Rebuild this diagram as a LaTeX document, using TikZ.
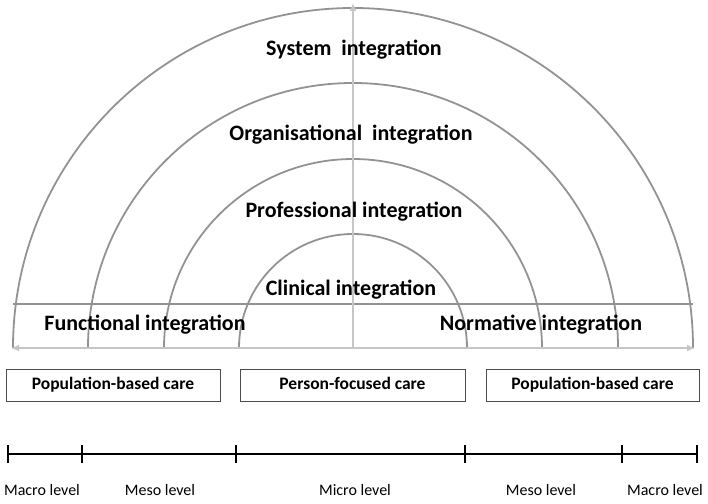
\documentclass[tikz,border=0pt]{standalone}
\usepackage{fontspec}
\setmainfont{Carlito}
\usetikzlibrary{arrows.meta}
\begin{document}
\begin{tikzpicture}[x=1pt,y=-1pt,
  arcline/.style={draw=gray!85, line width=1.8pt},
  axisline/.style={draw=gray!45, line width=1.5pt},
  biglabel/.style={font=\fontsize{22}{24}\selectfont\bfseries, inner sep=0pt},
  carebox/.style={draw=black!70, line width=0.8pt, inner sep=0pt, minimum height=32pt, text height=1.0em, text depth=0.2em, font=\fontsize{17.5}{19}\selectfont\bfseries},
  levellabel/.style={font=\fontsize{16}{18}\selectfont, inner sep=0pt},
  tick/.style={draw=black, line width=2pt}]
\useasboundingbox (0,0) rectangle (708,503);
% arcs
\draw[arcline] (13,348) arc[start angle=180,end angle=360,radius=340];
\draw[arcline] (88,348) arc[start angle=180,end angle=360,radius=265];
\draw[arcline] (164,348) arc[start angle=180,end angle=360,radius=189];
\draw[arcline] (239,348) arc[start angle=180,end angle=360,radius=114];
% band line
\coordinate (bl) at (13,304);
\coordinate (br) at (693,304);
\draw[arcline] (bl) -- (br);
% axes
\coordinate (hl) at (11,348);
\coordinate (hr) at (695,348);
\coordinate (vb) at (353,348);
\coordinate (vt) at (353,3);
\draw[axisline,{Latex[length=8pt,width=7pt]}-{Latex[length=8pt,width=7pt]}] (hl) -- (hr);
\draw[axisline,-{Latex[length=8pt,width=7pt]}] (vb) -- (vt);
% labels
\node[biglabel] (sys) at (354,50) {System\ \ integration};
\node[biglabel] (org) at (351,135) {Organisational\ \ integration};
\node[biglabel] (pro) at (354,212) {Professional integration};
\node[biglabel] (cli) at (351,290) {Clinical integration};
\node[biglabel] (fun) at (145,325) {Functional integration};
\node[biglabel] (nor) at (541,325) {Normative integration};
% boxes
\node[carebox, minimum width=214pt] (pb1) at (113,385) {Population-based care};
\node[carebox, minimum width=225pt] (pf) at (352.5,385) {Person-focused care};
\node[carebox, minimum width=213pt] (pb2) at (592.5,385) {Population-based care};
% timeline
\coordinate (t0) at (8,454);
\coordinate (t1) at (82,454);
\coordinate (t2) at (236,454);
\coordinate (t3) at (465,454);
\coordinate (t4) at (622,454);
\coordinate (t5) at (697,454);
\draw[draw=black, line width=1.5pt] (t0) -- (t5);
\foreach \t in {t0,t1,t2,t3,t4,t5}{
  \draw[tick] ([yshift=-9pt]\t) -- ([yshift=9pt]\t);
}
\node[levellabel] (l1) at (42,490) {Macro level};
\node[levellabel] (l2) at (160,490) {Meso level};
\node[levellabel] (l3) at (355,490) {Micro level};
\node[levellabel] (l4) at (541,490) {Meso level};
\node[levellabel] (l5) at (665,490) {Macro level};
\end{tikzpicture}
\end{document}
